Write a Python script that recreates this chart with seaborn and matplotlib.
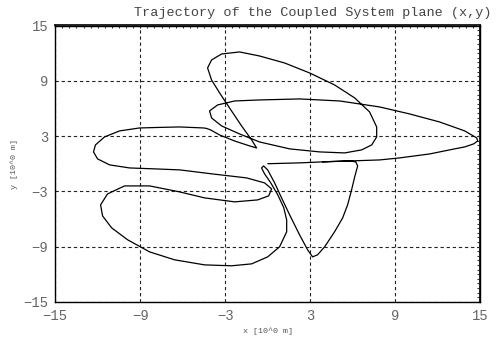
import matplotlib
matplotlib.use("Agg")
import matplotlib.pyplot as plt
from matplotlib.ticker import MultipleLocator, FixedLocator, NullFormatter
import numpy as np
import pandas as pd
import seaborn as sns

# trajectory samples (x, y) in metres, in time order
x_vals = [0.00, 2.24, 3.87, 5.77, 7.89, 9.30, 11.42, 13.18, 13.89, 14.52,
          14.81, 14.74, 14.38, 13.89, 12.12, 10.01, 7.89, 5.07, 2.24, -0.58,
          -2.34, -3.54, -4.11, -3.97, -3.26, -1.99, -0.58, 1.54, 3.66, 5.42,
          6.62, 7.33, 7.68, 7.68, 7.18, 6.13, 4.71, 2.95, 1.19, -0.58,
          -1.99, -3.26, -3.97, -4.25, -3.97, -3.40, -2.70, -1.85, -1.14, -0.79,
          -1.28, -2.35, -3.40, -4.04, -4.32, -4.53, -6.22, -7.64, -9.05, -10.46,
          -11.52, -12.16, -12.30, -12.01, -11.16, -9.75, -7.99, -6.22, -3.90, -1.50,
          -0.23, 0.27, 0.06, -0.72, -2.34, -4.46, -6.22, -8.34, -10.11, -11.31,
          -11.80, -11.66, -11.02, -9.89, -8.34, -6.58, -4.46, -2.56, -1.14, -0.01,
          0.83, 1.33, 1.33, 1.12, 0.69, 0.20, -0.23, -0.44, -0.30, -0.01,
          0.48, 0.97, 1.54, 2.24, 2.81, 3.16, 3.51, 4.01, 4.71, 5.28,
          5.63, 5.91, 6.13, 6.34, 6.20, 5.77, 4.71, 3.87]
y_vals = [0.00, 0.09, 0.20, 0.30, 0.41, 0.63, 1.06, 1.61, 1.82, 2.15,
          2.47, 2.80, 3.12, 3.56, 4.53, 5.40, 6.16, 6.81, 7.03, 6.92,
          6.81, 6.38, 5.73, 4.97, 4.10, 3.23, 2.36, 1.61, 1.28, 1.17,
          1.50, 2.04, 2.91, 3.99, 5.62, 7.14, 8.55, 9.85, 10.93, 11.69,
          12.13, 11.91, 11.26, 10.39, 9.09, 7.68, 6.05, 4.10, 2.58, 1.71,
          1.93, 2.47, 3.12, 3.67, 3.83, 3.88, 3.99, 3.94, 3.88, 3.56,
          2.91, 2.04, 1.28, 0.52, -0.13, -0.46, -0.56, -0.67, -1.11, -1.54,
          -2.08, -2.73, -3.49, -3.93, -4.14, -3.71, -3.06, -2.41, -2.41, -3.28,
          -4.47, -5.66, -6.96, -8.26, -9.57, -10.43, -10.98, -11.08, -10.87, -10.11,
          -9.02, -7.39, -6.10, -4.75, -3.34, -2.06, -1.10, -0.46, -0.24, -0.67,
          -2.08, -3.71, -5.55, -7.72, -9.35, -10.11, -9.89, -9.02, -7.39, -5.88,
          -4.47, -2.84, -1.43, -0.24, 0.20, 0.30, 0.25, 0.20]

major_ticks = [-15, -9, -3, 3, 9, 15]
title_text = "Trajectory of the Coupled System plane (x,y)"
xlabel_text = "x [10^0 m]"
ylabel_text = "y [10^0 m]"

sns.set_theme(style="white")
plt.rcParams["font.family"] = ["Liberation Mono", "DejaVu Sans Mono"]

df = pd.DataFrame({"x": x_vals, "y": y_vals, "t": np.arange(len(x_vals))})

fig = plt.figure(figsize=(5.02, 3.40), dpi=100)
ax = fig.add_axes([0.110, 0.112, 0.847, 0.813])

sns.lineplot(data=df, x="x", y="y", sort=False, estimator=None,
             color="black", linewidth=0.9, ax=ax)

ax.set_xlim(-15, 15)
ax.set_ylim(-15, 15)
ax.xaxis.set_major_locator(FixedLocator(major_ticks))
ax.yaxis.set_major_locator(FixedLocator(major_ticks))
ax.xaxis.set_minor_locator(MultipleLocator(0.5))
ax.yaxis.set_minor_locator(MultipleLocator(0.5))

ax.grid(True, which="major", color="#222222", linestyle=(0, (3, 2.5)),
        linewidth=0.8)

for side in ["left", "bottom", "top", "right"]:
    ax.spines[side].set_color("black")
    ax.spines[side].set_linewidth(1.0)

# outward ticks on the left/bottom
ax.tick_params(which="major", direction="out", length=4, width=0.9,
               color="black", labelsize=10, labelcolor="#666666", pad=1)
ax.tick_params(which="minor", direction="out", length=2.5, width=0.8,
               color="black")

# mirrored short inward ticks on the top/right edges
top = ax.secondary_xaxis("top")
right = ax.secondary_yaxis("right")
for sec, axis in ((top, top.xaxis), (right, right.yaxis)):
    axis.set_major_locator(FixedLocator(major_ticks))
    axis.set_minor_locator(MultipleLocator(0.5))
    axis.set_major_formatter(NullFormatter())
    sec.tick_params(which="both", direction="in", length=2, width=0.8,
                    color="#333333")
    for sp in sec.spines.values():
        sp.set_linewidth(1.4)
        sp.set_color("#222222")

ax.set_xlabel(xlabel_text, fontsize=6, color="#555555", labelpad=3)
ax.set_ylabel(ylabel_text, fontsize=6, color="#555555", labelpad=4)

fig.text(0.980, 0.962, title_text, ha="right", va="center",
         fontsize=9.7, color="#444444")

fig.savefig("out.png", dpi=100)
